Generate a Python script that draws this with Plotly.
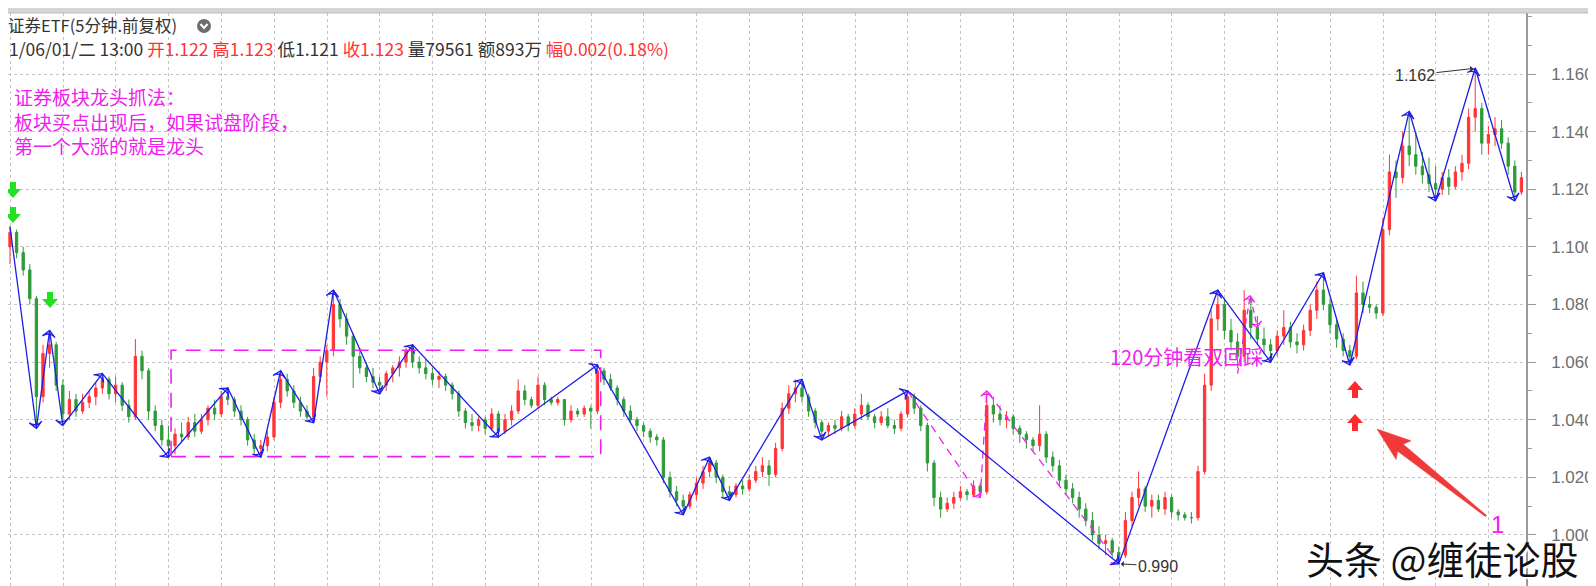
import math
import plotly.graph_objects as go

# ---------------- data (prices in 1/1000) ----------------
opens = [1100,1105,1098,1092,1082,1048,1063,1066,1052,1042,
         1047,1043,1046,1048,1051,1054,1049,1052,1045,1041,
         1062,1057,1043,1038,1033,1031,1035,1034,1039,1036,
         1040,1044,1042,1048,1047,1043,1040,1033,1030,1031,
         1034,1046,1054,1050,1046,1043,1041,1055,1060,1064,
         1080,1075,1069,1062,1058,1055,1053,1052,1056,1058,
         1060,1064,1060,1058,1056,1054,1055,1052,1049,1043,
         1039,1038,1040,1037,1042,1036,1040,1043,1050,1047,
         1045,1052,1047,1046,1047,1040,1043,1042,1044,1043,
         1057,1054,1051,1047,1043,1040,1038,1036,1034,1033,
         1020,1015,1012,1010,1014,1018,1022,1025,1020,1015,
         1014,1017,1016,1019,1022,1024,1021,1030,1044,1049,
         1051,1048,1043,1039,1036,1038,1037,1041,1038,1042,
         1045,1041,1039,1041,1038,1037,1042,1048,1044,1038,
         1025,1013,1009,1011,1013,1015,1014,1017,1015,1045,
         1042,1040,1041,1037,1035,1033,1031,1035,1027,1024,
         1019,1016,1013,1009,1005,1000,997,998,994,993,
         1005,1013,1016,1010,1012,1009,1013,1008,1007,1006,
         1006,1022,1052,1075,1080,1071,1067,1062,1078,1072,
         1068,1066,1064,1069,1072,1067,1066,1071,1078,1085,
         1080,1073,1068,1064,1062,1084,1080,1079,1077,1106,
         1126,1124,1135,1132,1128,1125,1122,1120,1124,1121,
         1126,1129,1145,1148,1136,1139,1141,1136,1128,1119]
highs = [1107,1106,1100,1094,1083,1066,1071,1067,1054,1050,
         1049,1049,1050,1053,1056,1055,1055,1053,1047,1068,
         1064,1058,1045,1040,1038,1037,1039,1041,1042,1042,
         1045,1047,1050,1051,1048,1045,1041,1035,1033,1036,
         1048,1057,1056,1052,1048,1045,1058,1062,1066,1085,
         1082,1077,1070,1065,1060,1058,1055,1057,1059,1062,
         1065,1066,1062,1061,1058,1057,1056,1053,1050,1044,
         1042,1041,1041,1044,1043,1042,1045,1054,1052,1048,
         1055,1053,1048,1048,1047,1045,1044,1045,1045,1059,
         1058,1056,1052,1048,1045,1041,1039,1037,1035,1034,
         1022,1017,1014,1015,1020,1024,1027,1026,1021,1017,
         1018,1019,1021,1024,1027,1026,1032,1046,1052,1054,
         1054,1049,1044,1040,1039,1040,1043,1042,1044,1049,
         1046,1042,1043,1044,1040,1043,1050,1049,1045,1039,
         1026,1015,1013,1015,1017,1016,1019,1018,1050,1048,
         1045,1043,1042,1038,1036,1034,1045,1036,1029,1026,
         1021,1018,1015,1011,1008,1003,1000,999,996,1008,
         1015,1022,1017,1014,1014,1015,1014,1009,1008,1008,
         1024,1056,1078,1085,1082,1075,1070,1085,1083,1076,
         1072,1068,1071,1078,1074,1070,1073,1080,1088,1091,
         1082,1075,1070,1066,1090,1088,1083,1080,1110,1132,
         1130,1140,1147,1140,1133,1131,1128,1126,1127,1128,
         1132,1148,1162,1150,1142,1145,1144,1138,1130,1126]
lows = [1094,1096,1090,1080,1037,1046,1058,1050,1038,1040,
        1041,1042,1044,1045,1049,1047,1046,1043,1039,1040,
        1054,1040,1036,1031,1027,1028,1032,1033,1034,1035,
        1038,1040,1041,1045,1041,1038,1031,1028,1027,1029,
        1033,1044,1048,1044,1041,1040,1039,1053,1048,1062,
        1072,1066,1051,1056,1053,1051,1049,1050,1053,1055,
        1058,1058,1056,1054,1052,1051,1050,1047,1041,1037,
        1036,1036,1035,1036,1034,1035,1038,1042,1045,1044,
        1044,1045,1045,1045,1038,1039,1041,1041,1037,1042,
        1052,1050,1045,1041,1039,1036,1034,1032,1031,1018,
        1013,1010,1007,1009,1012,1016,1020,1018,1013,1012,
        1013,1014,1015,1018,1020,1017,1020,1029,1042,1046,
        1046,1041,1037,1033,1034,1035,1036,1036,1037,1040,
        1040,1037,1038,1037,1035,1036,1041,1042,1036,1022,
        1010,1006,1008,1009,1012,1012,1013,1013,1014,1039,
        1038,1037,1035,1032,1030,1029,1029,1025,1022,1017,
        1014,1011,1006,1003,998,995,993,992,990,992,
        1003,1010,1008,1006,1008,1007,1006,1005,1005,1004,
        1005,1021,1050,1071,1068,1064,1058,1060,1068,1066,
        1063,1060,1062,1066,1065,1063,1064,1069,1075,1078,
        1070,1065,1062,1059,1061,1077,1077,1075,1076,1104,
        1117,1122,1128,1125,1122,1119,1116,1118,1118,1120,
        1123,1127,1140,1132,1132,1135,1134,1125,1116,1118]
closes = [1105,1098,1092,1082,1048,1063,1066,1052,1042,1047,
          1043,1046,1048,1051,1054,1049,1052,1045,1041,1062,
          1057,1043,1038,1033,1031,1035,1034,1039,1036,1040,
          1044,1042,1048,1047,1043,1040,1033,1030,1031,1034,
          1046,1054,1050,1046,1043,1041,1055,1060,1064,1080,
          1075,1069,1062,1058,1055,1053,1052,1056,1058,1060,
          1064,1060,1058,1056,1054,1055,1052,1049,1043,1039,
          1038,1040,1037,1042,1036,1040,1043,1050,1047,1045,
          1052,1047,1046,1047,1040,1043,1042,1044,1043,1057,
          1054,1051,1047,1043,1040,1038,1036,1034,1033,1020,
          1015,1012,1010,1014,1018,1022,1025,1020,1015,1014,
          1017,1016,1019,1022,1024,1021,1030,1044,1049,1051,
          1048,1043,1039,1036,1038,1037,1041,1038,1042,1045,
          1041,1039,1041,1038,1037,1042,1048,1044,1038,1025,
          1013,1009,1011,1013,1015,1014,1017,1015,1045,1042,
          1040,1041,1037,1035,1033,1031,1035,1027,1024,1019,
          1016,1013,1009,1005,1000,997,998,994,993,1005,
          1013,1016,1010,1012,1009,1013,1008,1007,1006,1006,
          1022,1052,1075,1080,1071,1067,1062,1078,1072,1068,
          1066,1064,1069,1072,1067,1066,1071,1078,1085,1080,
          1073,1068,1064,1062,1084,1080,1079,1077,1106,1126,
          1124,1135,1132,1128,1125,1122,1120,1124,1121,1126,
          1129,1145,1148,1136,1139,1141,1136,1128,1119,1124]

# main (blue) zig-zag turning points: candle index, price
zz_idx = [0, 4, 6, 8, 14, 24, 33, 38, 41, 46, 49, 56, 61, 74, 89, 102, 106, 109,
          120, 123, 136, 168, 183, 191, 199, 203, 212, 216, 222, 228]
zz_val = [1.107, 1.037, 1.071, 1.038, 1.056, 1.027, 1.051, 1.027, 1.057, 1.039,
          1.085, 1.049, 1.066, 1.034, 1.059, 1.007, 1.027, 1.012, 1.054, 1.033,
          1.050, 0.990, 1.085, 1.060, 1.091, 1.059, 1.147, 1.116, 1.162, 1.116]
# secondary (magenta) zig-zag
mz_idx = [136, 147, 148, 168]
mz_val = [1.050, 1.013, 1.050, 0.990]
mz2_idx = [186, 187.9, 189]
mz2_val = [1.056, 1.083, 1.072]
# dashed consolidation box (candle index range, price range)
box_idx = [24.4, 89.5]
box_val = [1.0272, 1.0641]

ytick_vals = [1.000, 1.020, 1.040, 1.060, 1.080, 1.100, 1.120, 1.140, 1.160]
ytick_text = ["1.000", "1.020", "1.040", "1.060", "1.080", "1.100", "1.120", "1.140", "1.160"]

S = 1000.0
xs = list(range(len(closes)))
o = [v / S for v in opens]
h = [v / S for v in highs]
l = [v / S for v in lows]
c = [v / S for v in closes]

# ---------------- layout helpers ----------------
W, H = 1596, 586
ML, MR, MT, MB = 0, 78, 5, 3
PW, PH = W - ML - MR, H - MT - MB


def dx(px):  # pixel -> candle index
    return (px - 2) / 6.6


def dy(py):  # pixel -> price
    return 1.160 - (py - 66) / 2881.0


def fx(px):
    return (px - ML) / PW


def fy(py):
    return (H - MB - py) / PH


BLUE = "#1e1ee8"
MAG = "#f020f0"
RED = "#ff2a2a"
GREEN = "#22e022"

fig = go.Figure()
fig.add_trace(go.Candlestick(
    x=xs, open=o, high=h, low=l, close=c,
    increasing=dict(line=dict(color="#ff3535", width=1), fillcolor="#ff3535"),
    decreasing=dict(line=dict(color="#2e9a3a", width=1), fillcolor="#2e9a3a"),
    whiskerwidth=0, showlegend=False, hoverinfo="skip"))

fig.add_trace(go.Scatter(
    x=mz_idx, y=mz_val, mode="lines+markers",
    line=dict(color=MAG, width=1.3, dash="8px,6px", backoff=0),
    marker=dict(symbol="arrow-wide-open", size=8, angleref="previous",
                color=MAG, line=dict(color=MAG, width=1.2)),
    showlegend=False, hoverinfo="skip"))
fig.add_trace(go.Scatter(
    x=mz2_idx, y=mz2_val, mode="lines+markers",
    line=dict(color=MAG, width=1.3, dash="6px,4px", backoff=0),
    marker=dict(symbol="arrow-wide-open", size=8, angleref="previous",
                color=MAG, line=dict(color=MAG, width=1.2)),
    showlegend=False, hoverinfo="skip"))
fig.add_trace(go.Scatter(
    x=zz_idx, y=zz_val, mode="lines+markers",
    line=dict(color=BLUE, width=1.3, backoff=0),
    marker=dict(symbol="arrow-wide-open", size=9, angleref="previous",
                color=BLUE, line=dict(color=BLUE, width=1.3)),
    showlegend=False, hoverinfo="skip"))

shapes = []
# dashed box
shapes.append(dict(type="rect", xref="x", yref="y", x0=box_idx[0], x1=box_idx[1],
                   y0=box_val[0], y1=box_val[1],
                   line=dict(color=MAG, width=1.6, dash="15px,9px"), layer="above"))
# top tab strip
shapes.append(dict(type="rect", xref="paper", yref="paper", x0=0, x1=W / PW,
                   y0=1, y1=fy(0), fillcolor="#d6d6d6", line=dict(width=0)))
shapes.append(dict(type="line", xref="paper", yref="paper", x0=0, x1=W / PW,
                   y0=1, y1=1, line=dict(color="#bdbdbd", width=1)))
shapes.append(dict(type="line", xref="paper", yref="paper", x0=0, x1=W / PW,
                   y0=0, y1=0, line=dict(color="#bdbdbd", width=1.5)))

DOWN = "M-3,8 L3,8 L3,1 L8,1 L0,-8 L-8,1 L-3,1 Z"
UP = "M-3,-9 L3,-9 L3,-1 L8,-1 L0,8 L-8,-1 L-3,-1 Z"
for (px, py) in [(5, 182), (5, 207), (42, 292)]:
    shapes.append(dict(type="path", xref="x", yref="y", xsizemode="pixel", ysizemode="pixel",
                       xanchor=dx(px), yanchor=dy(py), path=DOWN,
                       fillcolor=GREEN, line=dict(width=0)))
for (px, py) in [(1347, 381), (1347, 414)]:
    shapes.append(dict(type="path", xref="x", yref="y", xsizemode="pixel", ysizemode="pixel",
                       xanchor=dx(px), yanchor=dy(py), path=UP,
                       fillcolor=RED, line=dict(width=0)))

# big red pointer arrow
T = (1478.0, 508.0)
Hh = (1369.0, 421.0)
ux, uy = Hh[0] - T[0], Hh[1] - T[1]
ln = math.hypot(ux, uy)
ux, uy = ux / ln, uy / ln
nx, ny = -uy, ux
B = (Hh[0] - ux * 30, Hh[1] - uy * 30)
pts = [
    (T[0] + nx * 0.8, T[1] + ny * 0.8),
    (B[0] + nx * 4.5, B[1] + ny * 4.5),
    (B[0] - ux * 4 + nx * 12, B[1] - uy * 4 + ny * 12),
    Hh,
    (B[0] - ux * 4 - nx * 12, B[1] - uy * 4 - ny * 12),
    (B[0] - nx * 4.5, B[1] - ny * 4.5),
    (T[0] - nx * 0.8, T[1] - ny * 0.8),
]
path = "M" + " L".join(f"{dx(p[0]):.4f},{dy(p[1]):.5f}" for p in pts) + " Z"
shapes.append(dict(type="path", xref="x", yref="y", path=path,
                   fillcolor="#f03a3a", line=dict(color="#f03a3a", width=0.5)))

# header icon
shapes.append(dict(type="circle", xref="paper", yref="paper",
                   x0=fx(189), x1=fx(203), y0=fy(25), y1=fy(11),
                   fillcolor="#6d6d6d", line=dict(width=0)))
shapes.append(dict(type="path", xref="paper", yref="paper",
                   path=f"M{fx(192.5)},{fy(16)} L{fx(196)},{fy(20)} L{fx(199.5)},{fy(16)}",
                   line=dict(color="white", width=2)))

CJK = "Noto Sans CJK SC"
ann = []
ann.append(dict(xref="paper", yref="paper", x=fx(-2), y=fy(17), xanchor="left", yanchor="middle",
                text="证券ETF(5分钟.前复权)", showarrow=False,
                font=dict(family=CJK, size=16.5, color="#333333")))
line2 = ('<span style="color:#333333">1/06/01/二 13:00 </span>'
         '<span style="color:#ff3333">开1.122 高1.123</span>'
         '<span style="color:#333333"> 低1.121 </span>'
         '<span style="color:#ff3333">收1.123</span>'
         '<span style="color:#333333"> 量79561 额893万 </span>'
         '<span style="color:#ff3333">幅0.002(0.18%)</span>')
ann.append(dict(xref="paper", yref="paper", x=fx(-1), y=fy(41), xanchor="left", yanchor="middle",
                text=line2, showarrow=False, font=dict(family=CJK, size=17.5, color="#333333")))
ann.append(dict(xref="paper", yref="paper", x=fx(4), y=fy(113), xanchor="left", yanchor="middle",
                align="left",
                text="证券板块龙头抓法：<br>板块买点出现后，如果试盘阶段，<br>第一个大涨的就是龙头",
                showarrow=False, font=dict(family=CJK, size=19, color=MAG)))
ann.append(dict(xref="paper", yref="paper", x=fx(1100), y=fy(348), xanchor="left", yanchor="middle",
                text="120分钟看双回踩", showarrow=False, font=dict(family=CJK, size=20, color=MAG)))
ann.append(dict(xref="x", yref="y", x=zz_idx[28], y=zz_val[28], ax=dx(1407), ay=dy(67),
                axref="x", ayref="y", text="1.162", showarrow=True, arrowhead=1, arrowsize=1,
                arrowwidth=1, arrowcolor="#333333", standoff=2,
                font=dict(family="Liberation Sans", size=16, color="#333333")))
ann.append(dict(xref="x", yref="y", x=zz_idx[21], y=zz_val[21], ax=dx(1150), ay=dy(558),
                axref="x", ayref="y", text="0.990", showarrow=True, arrowhead=1, arrowsize=1,
                arrowwidth=1, arrowcolor="#333333", standoff=2,
                font=dict(family="Liberation Sans", size=16, color="#333333")))
ann.append(dict(xref="paper", yref="paper", x=fx(1489), y=fy(516), xanchor="center", yanchor="middle",
                text="1", showarrow=False, font=dict(family="Liberation Sans", size=24, color=MAG)))
ann.append(dict(xref="paper", yref="paper", x=fx(1434), y=fy(549), xanchor="center", yanchor="middle",
                text="头条 @缠徒论股", showarrow=False,
                font=dict(family=CJK, size=38, color="#111111", shadow="2px 2px 1px #ffffff")))

fig.update_layout(
    width=W, height=H, margin=dict(l=ML, r=MR, t=MT, b=MB),
    paper_bgcolor="white", plot_bgcolor="white", boxgap=0.5,
    shapes=shapes, annotations=ann, showlegend=False,
    xaxis=dict(range=[dx(0), dx(PW)], showticklabels=False, ticks="", zeroline=False,
               showline=False, showgrid=True, tick0=8.03, dtick=8, gridcolor="#c4c4c4",
               griddash="dot", gridwidth=1, rangeslider=dict(visible=False)),
    yaxis=dict(range=[dy(H - MB), dy(MT)], side="right", tickvals=ytick_vals, ticktext=ytick_text,
               tickfont=dict(family="Liberation Sans", size=17, color="#6e6e6e"),
               ticks="outside", ticklen=8, tickcolor="#9a9a9a", showline=True, linecolor="#9a9a9a",
               linewidth=1.5, showgrid=True, gridcolor="#c4c4c4", griddash="dot", zeroline=False,
               ticklabelstandoff=12,
               minor=dict(dtick=0.01, tick0=1.0, ticks="outside", ticklen=4, tickcolor="#9a9a9a",
                          showgrid=False)),
)
fig.write_html("out.html")
